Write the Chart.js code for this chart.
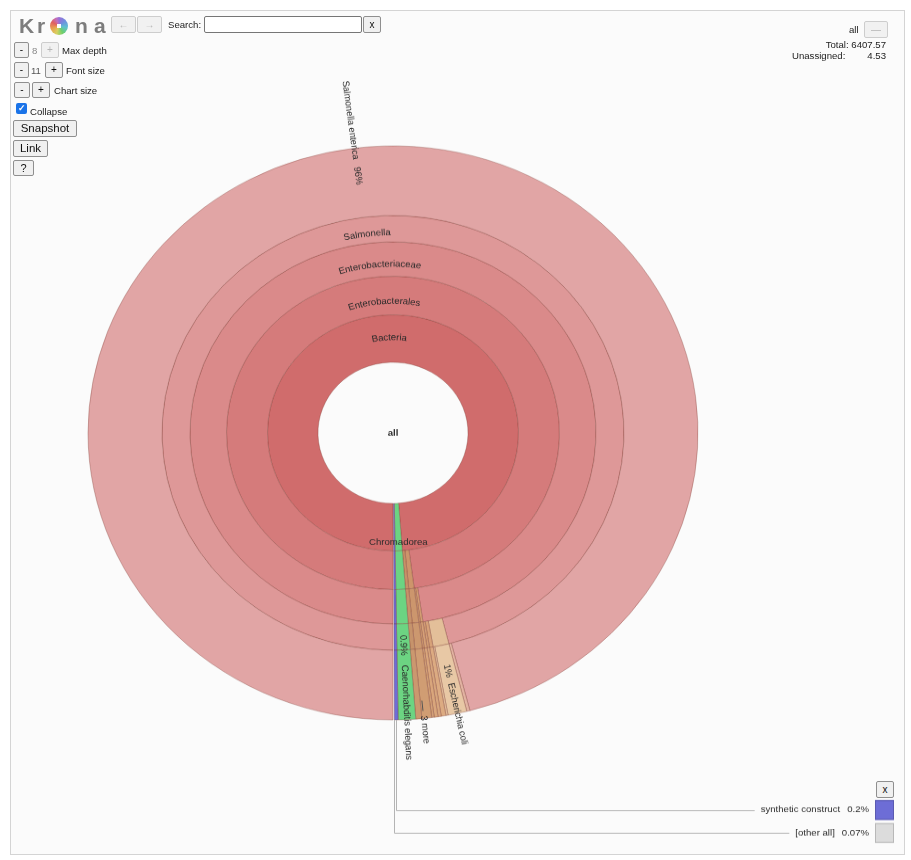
<!DOCTYPE html>
<html><head><meta charset="utf-8">
<script src="https://cdn.jsdelivr.net/npm/chart.js@4"></script>
<style>
html,body{margin:0;padding:0;background:#fff;width:911px;height:860px;overflow:hidden;font-family:"Liberation Sans",Arial,sans-serif;}
#frame{position:absolute;left:10px;top:10px;width:895px;height:845px;box-sizing:border-box;border:1px solid #d4d4d4;background:#fbfbfb;}
#wrap{position:absolute;left:0;top:0;width:911px;height:914px;transform:scaleY(0.941);transform-origin:0 0;}
.ui{position:absolute;font-size:9.6px;color:#222;white-space:nowrap;line-height:11px;}
.btn{position:absolute;box-sizing:border-box;border:1px solid #8f8f8f;border-radius:2px;background:#f0f0f0;font-size:10px;color:#111;display:flex;align-items:center;justify-content:center;line-height:1;}
.dis{color:#b5b5b5;border-color:#cdcdcd;background:#f1f1f1;}
.logo{position:absolute;top:14px;font-size:21px;font-weight:bold;color:#7d7d7d;line-height:24px;}
</style></head>
<body>
<div id="frame"></div>
<div id="wrap"><canvas id="c" width="911" height="914"></canvas></div>

<!-- Krona controls -->
<div class="logo" style="left:19px">K</div>
<div class="logo" style="left:37px">r</div>
<div style="position:absolute;left:50px;top:17px;width:18px;height:18px;border-radius:50%;background:radial-gradient(circle,#fff 0 18%,transparent 20%),conic-gradient(#9b6fd6 0deg,#6f8fe0 50deg,#5fc0d0 100deg,#6ccf6c 150deg,#d8d060 200deg,#e8a050 250deg,#e06060 300deg,#c070c0 340deg,#9b6fd6 360deg);"></div>
<div class="logo" style="left:75px">n</div>
<div class="logo" style="left:94px">a</div>
<div class="btn dis" style="left:111px;top:16px;width:25px;height:17px;">&larr;</div>
<div class="btn dis" style="left:137px;top:16px;width:25px;height:17px;">&rarr;</div>
<div class="ui" style="left:168px;top:19px;">Search:</div>
<div style="position:absolute;left:204px;top:16px;width:158px;height:17px;box-sizing:border-box;border:1px solid #767676;border-radius:2px;background:#fff;"></div>
<div class="btn" style="left:363px;top:16px;width:18px;height:17px;">x</div>

<div class="btn" style="left:14px;top:42px;width:15px;height:16px;">-</div>
<div class="ui" style="left:32px;top:45px;color:#888;">8</div>
<div class="btn dis" style="left:41px;top:42px;width:18px;height:16px;">+</div>
<div class="ui" style="left:62px;top:45px;">Max depth</div>

<div class="btn" style="left:14px;top:62px;width:15px;height:16px;">-</div>
<div class="ui" style="left:31px;top:65px;color:#555;">11</div>
<div class="btn" style="left:45px;top:62px;width:18px;height:16px;">+</div>
<div class="ui" style="left:66px;top:65px;">Font size</div>

<div class="btn" style="left:14px;top:82px;width:16px;height:16px;">-</div>
<div class="btn" style="left:32px;top:82px;width:18px;height:16px;">+</div>
<div class="ui" style="left:54px;top:85px;">Chart size</div>

<div style="position:absolute;left:16px;top:103px;width:11px;height:11px;border-radius:2px;background:#1a73e8;color:#fff;font-size:9px;line-height:11px;text-align:center;font-weight:bold;">&#10003;</div>
<div class="ui" style="left:30px;top:106px;">Collapse</div>

<div class="btn" style="left:13px;top:120px;width:64px;height:17px;font-size:11.5px;">Snapshot</div>
<div class="btn" style="left:13px;top:140px;width:35px;height:17px;font-size:11.5px;">Link</div>
<div class="btn" style="left:13px;top:160px;width:21px;height:16px;font-size:11px;">?</div>

<!-- top right -->
<div class="ui" style="left:849px;top:24px;">all</div>
<div class="btn dis" style="left:864px;top:21px;width:24px;height:17px;">&mdash;</div>
<div class="ui" style="right:25px;top:39px;text-align:right;">Total: 6407.57</div>
<div class="ui" style="left:792px;top:50px;">Unassigned:</div>
<div class="ui" style="right:25px;top:50px;text-align:right;">4.53</div>

<!-- key close button -->
<div class="btn" style="left:876px;top:781px;width:18px;height:17px;">x</div>

<script>
// ---------------- data (percent of total magnitude) ----------------
const totalMagnitude = 6407.57;
const unassignedMagnitude = 4.53;

// depth 1
const domainLabels = ['Bacteria', 'Chromadorea', 'synthetic construct', '[other all]'];
const domainValues = [98.81, 0.92, 0.20, 0.07];
// depth 2
const orderLabels = ['Enterobacterales', 'other Bacteria 1', 'other Bacteria 2', 'Chromadorea', 'synthetic construct', '[other all]'];
const orderValues = [97.97, 0.52, 0.32, 0.92, 0.20, 0.07];
// depth 3
const familyLabels = ['Enterobacteriaceae', 'other Enterobacterales 1', 'other Enterobacterales 2', 'other Bacteria 1', 'other Bacteria 2', 'Chromadorea', 'synthetic construct', '[other all]'];
const familyValues = [97.64, 0.20, 0.13, 0.52, 0.32, 0.92, 0.20, 0.07];
// depth 4
const genusLabels = ['Salmonella', 'Escherichia', 'other Enterobacteriaceae 1', 'other Enterobacteriaceae 2', 'other Enterobacterales 1', 'other Enterobacterales 2', 'other Bacteria 1', 'other Bacteria 2', 'Chromadorea', 'synthetic construct', '[other all]'];
const genusValues = [96.11, 1.11, 0.25, 0.17, 0.20, 0.13, 0.52, 0.32, 0.92, 0.20, 0.07];
// depth 5 (leaves)
const speciesLabels = ['Salmonella enterica', 'other Salmonella', 'Escherichia coli', 'other Escherichia', 'other Enterobacteriaceae 1', 'other Enterobacteriaceae 2', 'other Enterobacterales 1', 'other Enterobacterales 2', 'other Bacteria 1', 'other Bacteria 2', 'Caenorhabditis elegans', 'synthetic construct', '[other all]'];
const speciesValues = [95.94, 0.17, 1.00, 0.11, 0.25, 0.17, 0.20, 0.13, 0.52, 0.32, 0.92, 0.20, 0.07];

const keyLabels = ['synthetic construct', '[other all]'];
const keyPercents = ['0.2%', '0.07%'];

// ---------------- styles ----------------
const GREEN = '#6cd482', BLUE = '#6d6dd6', NONE = 'rgba(0,0,0,0)';
const domainColors  = ['#d06c6c', GREEN, BLUE, NONE];
const orderColors   = ['#d57b7b', '#cd956b', '#c79067', GREEN, BLUE, NONE];
const familyColors  = ['#da8a8a', '#d49e74', '#cf9970', '#cc966d', '#c7916a', GREEN, BLUE, NONE];
const genusColors   = ['#de9898', '#e3bf99', '#d7a279', '#d29d75', '#d5a077', '#cf9b72', '#cc986f', '#c6936b', GREEN, BLUE, NONE];
const speciesColors = ['#e1a5a5', '#e2b3a2', '#e8c8a5', '#e3bf9c', '#dcab82', '#d7a67e', '#d9a67c', '#d3a178', '#d09d73', '#cb986f', GREEN, BLUE, NONE];

function edges(n) { const a = new Array(n).fill('rgba(120,55,45,0.33)'); a[n - 1] = NONE; return a; }

const rings = [
  { label: 'species', data: speciesValues, backgroundColor: speciesColors, weight: 74 },
  { label: 'genus',   data: genusValues,   backgroundColor: genusColors,   weight: 28 },
  { label: 'family',  data: familyValues,  backgroundColor: familyColors,  weight: 36.5 },
  { label: 'order',   data: orderValues,   backgroundColor: orderColors,   weight: 41 },
  { label: 'domain',  data: domainValues,  backgroundColor: domainColors,  weight: 50.5 }
].map(d => Object.assign(d, { borderColor: edges(d.data.length), borderWidth: 1, hoverOffset: 0 }));

const FONT = '9.6px "Liberation Sans", Arial, sans-serif';
const TEXT = '#2a2a2a';
const SQ = 0.941; // vertical squash of the reference picture

function arcText(ctx, text, cx, cy, r, mid) {
  const w = ctx.measureText(text).width;
  let a = mid - (w / 2) / r;
  ctx.textAlign = 'center';
  for (const ch of text) {
    const cw = ctx.measureText(ch).width;
    const ang = a + (cw / 2) / r;
    ctx.save();
    ctx.translate(cx + r * Math.cos(ang), cy + r * Math.sin(ang));
    ctx.rotate(ang + Math.PI / 2);
    ctx.fillText(ch, 0, 0);
    ctx.restore();
    a += cw / r;
  }
}
// anchor 'in': text starts at radius r and runs outward; 'out': text ends at radius r and runs inward
function radialText(ctx, text, cx, cy, ang, r, anchor) {
  ctx.save();
  ctx.translate(cx, cy);
  const flip = Math.cos(ang) < 0;
  if (!flip) { ctx.rotate(ang); ctx.textAlign = anchor === 'in' ? 'left' : 'right'; ctx.fillText(text, r, 0); }
  else { ctx.rotate(ang + Math.PI); ctx.textAlign = anchor === 'in' ? 'right' : 'left'; ctx.fillText(text, -r, 0); }
  ctx.restore();
}
const mid = a => (a.startAngle + a.endAngle) / 2;

const kronaLabels = {
  id: 'kronaLabels',
  afterDatasetsDraw(chart) {
    const ctx = chart.ctx;
    const arc = (ring, i) => chart.getDatasetMeta(ring).data[i];
    const c0 = arc(0, 0);
    const cx = c0.x, cy = c0.y;
    ctx.save();
    ctx.font = FONT;
    ctx.fillStyle = TEXT;
    ctx.textBaseline = 'middle';

    // curved labels of the big inner nodes
    const inner = [[4, 0, domainLabels[0], 0.52], [3, 0, orderLabels[0], 0.35], [2, 0, familyLabels[0], 0.35], [1, 0, genusLabels[0], 0.35]];
    inner.forEach(([ring, i, txt, f]) => {
      const a = arc(ring, i);
      arcText(ctx, txt, cx, cy, a.innerRadius + f * (a.outerRadius - a.innerRadius), mid(a));
    });
    // Chromadorea (narrow, horizontal)
    {
      const a = arc(4, 1), m = mid(a), r = a.innerRadius + 0.83 * (a.outerRadius - a.innerRadius);
      ctx.textAlign = 'center';
      ctx.fillText(domainLabels[1], cx + r * Math.cos(m), cy + r * Math.sin(m));
    }
    // centre
    ctx.font = 'bold ' + FONT;
    ctx.textAlign = 'center';
    ctx.fillText('all', cx, cy);
    ctx.font = FONT;

    // leaf labels
    const pct = v => (v >= 1 ? Math.round(v) : v.toFixed(1)) + '%';
    const se = arc(0, 0);
    radialText(ctx, speciesLabels[0], cx, cy, mid(se), 293, 'in');
    radialText(ctx, pct(speciesValues[0]), cx, cy, mid(se), 285, 'out');
    const ce = arc(0, 10);
    radialText(ctx, pct(speciesValues[10]), cx, cy, mid(ce), 215, 'in');
    radialText(ctx, speciesLabels[10], cx, cy, mid(ce), 247, 'in');
    const ec = arc(0, 2);
    radialText(ctx, pct(speciesValues[2]), cx, cy, mid(ec), 252, 'in');
    radialText(ctx, speciesLabels[2], cx, cy, mid(ec), 272, 'in');
    // "3 more"
    const m3 = (arc(0, 8).startAngle + arc(0, 9).endAngle) / 2;
    ctx.strokeStyle = '#555'; ctx.lineWidth = 1;
    ctx.beginPath();
    ctx.moveTo(cx + 286 * Math.cos(m3), cy + 286 * Math.sin(m3));
    ctx.lineTo(cx + 297 * Math.cos(m3), cy + 297 * Math.sin(m3));
    ctx.stroke();
    radialText(ctx, '3 more', cx, cy, m3, 302, 'in');

    // key
    const keyArcs = [arc(0, 11), arc(0, 12)];
    const keyY = [810 / SQ, 833 / SQ];
    const keyBox = [BLUE, '#dcdcdc'];
    keyArcs.forEach((a, k) => {
      const m = mid(a), R = a.outerRadius;
      const px = cx + R * Math.cos(m), py = cy + R * Math.sin(m);
      const y = keyY[k];
      ctx.font = FONT;
      const wp = ctx.measureText(keyPercents[k]).width;
      const wl = ctx.measureText(keyLabels[k]).width;
      const xr = 869;
      ctx.fillStyle = TEXT;
      ctx.textAlign = 'right';
      ctx.fillText(keyPercents[k], xr, y);
      ctx.fillText(keyLabels[k], xr - wp - 7, y);
      const xStart = xr - wp - 7 - wl - 6;
      ctx.strokeStyle = '#b4b4b4'; ctx.lineWidth = 1;
      ctx.beginPath();
      ctx.moveTo(Math.round(px) + 0.5, py);
      ctx.lineTo(Math.round(px) + 0.5, Math.round(y) + 0.5);
      ctx.lineTo(xStart, Math.round(y) + 0.5);
      ctx.stroke();
      ctx.fillStyle = keyBox[k];
      ctx.fillRect(875, y - 10.5, 19, 21);
      ctx.strokeStyle = k === 0 ? '#5a5ab0' : '#b8b8b8';
      ctx.strokeRect(875.5, y - 10, 18, 20);
    });
    ctx.restore();
  }
};

new Chart(document.getElementById('c'), {
  type: 'doughnut',
  data: { labels: speciesLabels, datasets: rings },
  options: {
    responsive: false,
    animation: false,
    events: [],
    rotation: 180,
    circumference: 360,
    cutout: '24.6%',
    radius: 305,
    layout: { padding: { left: 88, right: 213, top: 155, bottom: 149 } },
    plugins: { legend: { display: false }, tooltip: { enabled: false } }
  },
  plugins: [kronaLabels]
});
</script>
</body></html>
